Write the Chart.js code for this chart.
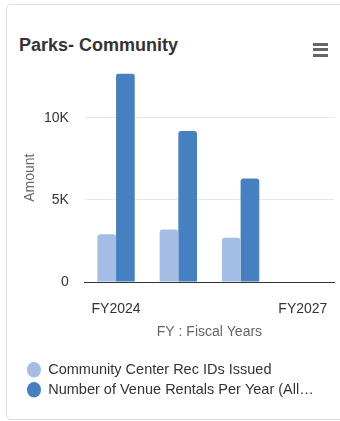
<!DOCTYPE html>
<html>
<head>
<meta charset="utf-8">
<script src="https://cdn.jsdelivr.net/npm/chart.js@4"></script>
<style>
    html, body {
        margin: 0;
        padding: 0;
        background: #fff;
        overflow: hidden;
        font-family: "Liberation Sans", Arial, sans-serif;
    }
    .card {
        position: absolute;
        left: 6px;
        top: 4px;
        width: 345px;
        height: 416px;
        box-sizing: border-box;
        border: 1px solid #dcdcdc;
        border-radius: 5px;
    }
    .titulo {
        position: absolute;
        left: 19px;
        top: 36px;
        font-size: 18px;
        line-height: 18px;
        font-weight: bold;
        color: #333;
        white-space: nowrap;
    }
    .menu {
        position: absolute;
        left: 313px;
        top: 43px;
        width: 15px;
    }
    .menu div {
        height: 3px;
        background: #666;
        margin-bottom: 2.3px;
    }
    .grafica-box {
        position: absolute;
        left: 0;
        top: 62px;
        width: 340px;
        height: 355px;
    }
</style>
</head>
<body>
<div class="card"></div>
<div class="titulo">Parks- Community</div>
<div class="menu"><div></div><div></div><div></div></div>
<div class="grafica-box"><canvas id="grafica"></canvas></div>

<script>
const categorias = ["FY2024", "FY2025", "FY2026", "FY2027"];
const recIds = [2900, 3200, 2700, null];
const rentas = [12700, 9200, 6300, null];
const nombresSeries = [
    "Community Center Rec IDs Issued",
    "Number of Venue Rentals Per Year (All…"
];
const etiquetasX = ["FY2024", "FY2027"];
const ticksY = [0, 5000, 10000];

const fuente = "'Liberation Sans', Arial, sans-serif";
const valores = recIds.concat(rentas).filter(v => v !== null);

let chart = new Chart(document.getElementById("grafica"), {
    type: "bar",
    data: {
        labels: categorias,
        datasets: [{
            label: nombresSeries[0],
            data: recIds,
            backgroundColor: "#a4bde4",
            borderRadius: { topLeft: 3, topRight: 3 },
            borderSkipped: "start"
        }, {
            label: nombresSeries[1],
            data: rentas,
            backgroundColor: "#4581c0",
            borderRadius: { topLeft: 3, topRight: 3 },
            borderSkipped: "start"
        }]
    },
    options: {
        responsive: true,
        maintainAspectRatio: false,
        animation: false,
        devicePixelRatio: 1,
        datasets: {
            bar: { categoryPercentage: 0.6, barPercentage: 1.0 }
        },
        layout: {
            padding: { left: 21.5, right: 6, top: 10, bottom: 10 }
        },
        scales: {
            x: {
                // la separacion de las etiquetas va en tickLength (marca transparente)
                grid: {
                    display: true,
                    drawOnChartArea: false,
                    drawTicks: true,
                    tickLength: 14,
                    tickColor: "rgba(0,0,0,0)",
                    color: "rgba(0,0,0,0)"
                },
                border: { display: true, color: "#333", width: 1 },
                ticks: {
                    padding: 5,
                    maxRotation: 0,
                    autoSkip: false,
                    color: "#333",
                    font: { family: fuente, size: 14 },
                    callback: function (valor, i) {
                        const cat = categorias[i];
                        return etiquetasX.includes(cat) ? cat : "";
                    }
                },
                title: {
                    display: true,
                    text: "FY : Fiscal Years",
                    color: "#666",
                    font: { family: fuente, size: 14 },
                    padding: { top: 0.8, bottom: 16.6 }
                }
            },
            y: {
                min: 0,
                max: Math.max(...valores),
                afterBuildTicks: escala => {
                    escala.ticks = ticksY.map(v => ({ value: v }));
                },
                grid: {
                    color: "#e6e6e6",
                    drawTicks: true,
                    tickLength: 13,
                    tickColor: "rgba(0,0,0,0)"
                },
                border: { display: false },
                ticks: {
                    padding: 3,
                    color: "#333",
                    font: { family: fuente, size: 14 },
                    callback: v => v === 0 ? "0" : (v / 1000) + "K"
                },
                title: {
                    display: true,
                    text: "Amount",
                    color: "#666",
                    font: { family: fuente, size: 14 },
                    padding: { top: 0, bottom: 2.7 }
                }
            }
        },
        plugins: {
            legend: {
                position: "bottom",
                align: "start",
                labels: {
                    usePointStyle: true,
                    pointStyle: "circle",
                    pointStyleWidth: 14,
                    boxHeight: 11,
                    padding: 5.5,
                    color: "#333",
                    font: { family: fuente, size: 14.5 }
                }
            },
            tooltip: { enabled: false }
        }
    }
});
</script>
</body>
</html>
